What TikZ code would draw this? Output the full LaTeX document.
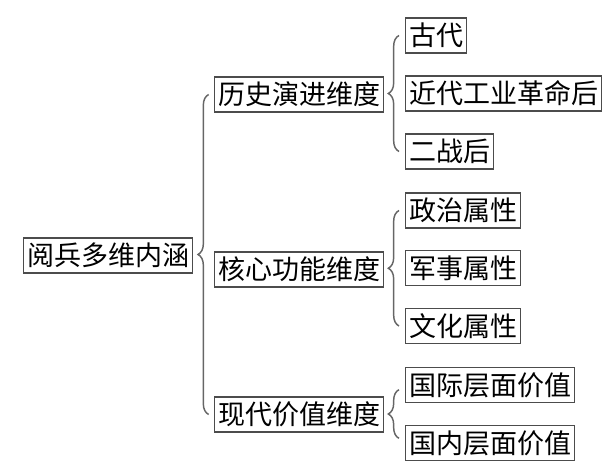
\documentclass[tikz,border=0pt]{standalone}
\usepackage{fontspec}
\newfontfamily\cjk{Noto Sans CJK SC}
\usetikzlibrary{decorations.pathreplacing}
\tikzset{
  box/.style={draw=black!70, line width=1.1pt, anchor=west,
    font=\cjk\fontsize{20.25pt}{24pt}\selectfont,
    inner xsep=2.6pt, inner ysep=0pt, minimum height=26pt},
  brc/.style={draw=black!60, line width=1.1pt, decorate,
    decoration={brace, amplitude=8pt}}
}

\begin{document}
\begin{tikzpicture}[x=0.75pt,y=-0.75pt]
            \useasboundingbox (0,0) rectangle (610,473);
            \node[box] (root) at (23,255.5) {阅兵多维内涵};
            \node[box] (hist) at (214,94.5) {历史演进维度};
            \node[box] (core) at (214,269.5) {核心功能维度};
            \node[box] (mod) at (214,414.5) {现代价值维度};
            \node[box] (h1) at (405,35.5) {古代};
            \node[box] (h2) at (405,93.5) {近代工业革命后};
            \node[box] (h3) at (405,151.5) {二战后};
            \node[box] (c1) at (405,210.5) {政治属性};
            \node[box] (c2) at (405,268) {军事属性};
            \node[box] (c3) at (405,326) {文化属性};
            \node[box] (m1) at (405,385) {国际层面价值};
            \node[box] (m2) at (405,443) {国内层面价值};
            \draw[brc] ([xshift=-4pt]mod.west) -- ([xshift=-4pt]hist.west);
            \draw[brc] ([xshift=-4.5pt]h3.west) -- ([xshift=-4.5pt]h1.west);
            \draw[brc] ([xshift=-4.5pt]c3.west) -- ([xshift=-4.5pt]c1.west);
            \draw[brc] ([xshift=-4.5pt,yshift=3.5pt]m2.west) -- ([xshift=-4.5pt,yshift=-3.5pt]m1.west);
        \end{tikzpicture}
\end{document}
